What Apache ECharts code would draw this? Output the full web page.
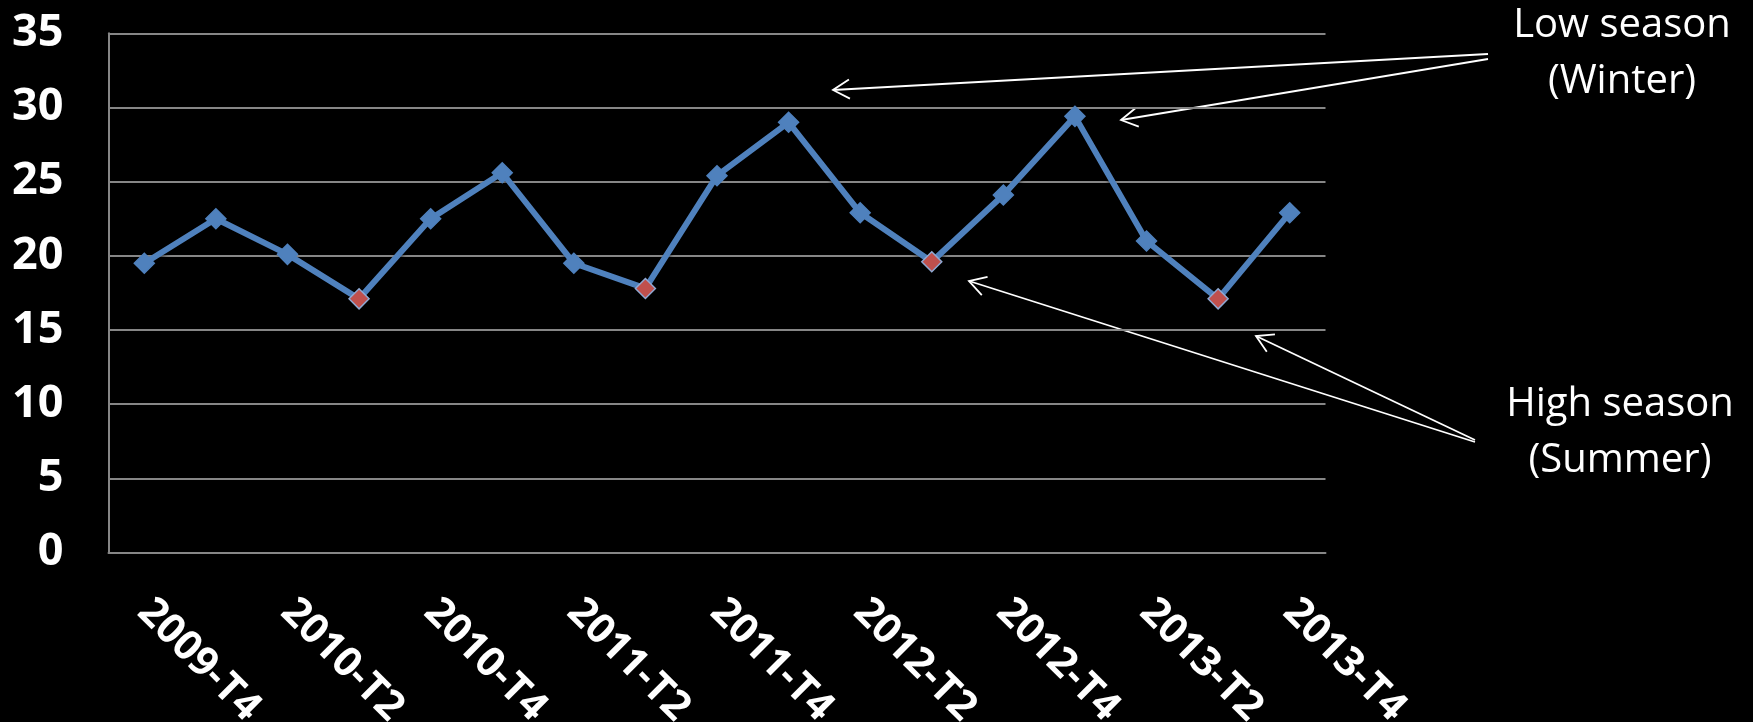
<!DOCTYPE html>
<html>
<head>
<meta charset="utf-8">
<script src="https://cdn.jsdelivr.net/npm/echarts@6/dist/echarts.min.js"></script>
<style>
html,body{margin:0;padding:0;background:#000;}
#chart{width:1753px;height:722px;}
</style>
</head>
<body>
<div id="chart"></div>
<script>
var categories = ['2009-T4','2010-T1','2010-T2','2010-T3','2010-T4','2011-T1','2011-T2','2011-T3','2011-T4','2012-T1','2012-T2','2012-T3','2012-T4','2013-T1','2013-T2','2013-T3','2013-T4'];
var values = [19.5, 22.5, 20.1, 17.1, 22.5, 25.6, 19.5, 17.8, 25.4, 29.0, 22.9, 19.6, 24.1, 29.4, 21.0, 17.1, 22.9];
var highSeason = ['2010-T3','2011-T3','2012-T3','2013-T3'];
var yTicks = {min: 0, max: 35, interval: 5};
var lowLabel = 'Low season\n(Winter)';
var highLabel = 'High season\n(Summer)';

var chart = echarts.init(document.getElementById('chart'));

var seriesData = values.map(function (v, i) {
  var isHigh = highSeason.indexOf(categories[i]) >= 0;
  return isHigh ? {value: v, itemStyle: {color: '#c0504d', borderColor: '#8fa9d3', borderWidth: 1.5}} : {value: v};
});

function arrow(x1, y1, x2, y2) {
  var ang = Math.atan2(y1 - y2, x1 - x2);
  var L = 19, a = 30 * Math.PI / 180;
  var w1 = [x2 + L * Math.cos(ang - a), y2 + L * Math.sin(ang - a)];
  var w2 = [x2 + L * Math.cos(ang + a), y2 + L * Math.sin(ang + a)];
  var st = {stroke: '#fff', lineWidth: 1.8, fill: null};
  return [
    {type: 'polyline', silent: true, shape: {points: [[x1, y1], [x2, y2]]}, style: st},
    {type: 'polyline', silent: true, shape: {points: [w1, [x2, y2], w2]}, style: st}
  ];
}

var graphics = [].concat(
  arrow(1488, 54, 833, 90),
  arrow(1488, 59, 1121, 120),
  arrow(1475, 442, 969, 281),
  arrow(1475, 440, 1256, 336),
  [
    {type: 'text', silent: true, x: 1622, y: -2, style: {text: lowLabel, fill: '#fff', font: '40px "Open Sans"', textAlign: 'center', textVerticalAlign: 'top', lineHeight: 56}},
    {type: 'text', silent: true, x: 1620, y: 377, style: {text: highLabel, fill: '#fff', font: '40px "Open Sans"', textAlign: 'center', textVerticalAlign: 'top', lineHeight: 56}}
  ]
);

chart.setOption({
  backgroundColor: '#000',
  animation: false,
  grid: {left: 108.5, right: 427.5, top: 33.3, bottom: 169.5, containLabel: false, outerBoundsMode: 'none'},
  xAxis: {
    type: 'category',
    data: categories,
    boundaryGap: true,
    axisLine: {show: true, lineStyle: {color: '#868686', width: 2}},
    axisTick: {show: false},
    splitLine: {show: false},
    axisLabel: {
      interval: 1,
      rotate: -45,
      margin: 53,
      color: '#fff',
      fontFamily: 'Open Sans',
      fontWeight: 'bold',
      fontSize: 41
    }
  },
  yAxis: {
    type: 'value',
    min: yTicks.min,
    max: yTicks.max,
    interval: yTicks.interval,
    axisLine: {show: true, lineStyle: {color: '#868686', width: 2}},
    axisTick: {show: false},
    splitLine: {show: true, lineStyle: {color: '#868686', width: 2}},
    axisLabel: {
      margin: 45,
      color: '#fff',
      fontFamily: 'Open Sans',
      fontWeight: 'bold',
      fontSize: 45
    }
  },
  series: [{
    type: 'line',
    data: seriesData,
    symbol: 'diamond',
    symbolSize: 20,
    itemStyle: {color: '#4f81bd', borderColor: '#4f81bd', borderWidth: 1.5},
    lineStyle: {color: '#4f81bd', width: 6, shadowColor: 'rgba(0,0,0,0.5)', shadowBlur: 3, shadowOffsetY: 2},
    z: 3
  }],
  graphic: graphics
});
</script>
</body>
</html>
